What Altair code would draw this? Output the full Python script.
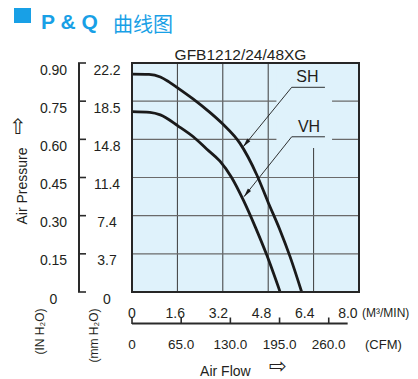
import altair as alt
import pandas as pd

# ---------------- data ----------------
sh_flow = [0, 0.6, 1.0, 1.3, 1.6, 2.15, 2.68, 3.2, 3.8, 4.4, 4.8, 5.2, 5.57, 5.98]
sh_pres = [0.856, 0.855, 0.845, 0.826, 0.803, 0.759, 0.712, 0.660, 0.585, 0.460, 0.352, 0.248, 0.139, 0.0]
vh_flow = [0, 0.63, 1.0, 1.63, 2.16, 2.63, 3.1, 3.5, 3.92, 4.34, 4.75, 5.22]
vh_pres = [0.709, 0.706, 0.696, 0.652, 0.610, 0.562, 0.514, 0.452, 0.362, 0.257, 0.145, 0.0]

x_ticks = [0, 1.6, 3.2, 4.8, 6.4, 8.0]
x_labels = ["0", "1.6", "3.2", "4.8", "6.4", "8.0"]
y_ticks = [0, 0.15, 0.30, 0.45, 0.60, 0.75, 0.90]
in_labels = ["0", "0.15", "0.30", "0.45", "0.60", "0.75", "0.90"]
mm_labels = ["0", "3.7", "7.4", "11.4", "14.8", "18.5", "22.2"]
cfm_ticks = [0, 65, 130, 195, 260]
cfm_labels = ["0", "65.0", "130.0", "195.0", "260.0"]
cfm_axis_end = 285

v_grid = [1.6, 3.2, 4.8, 6.4]
h_grid = [0.15, 0.30, 0.45, 0.60, 0.75]

series_names = ["SH", "VH"]
label_flow = [6.18, 6.24]
label_pres = [0.846, 0.650]
sh_leader_flow = [3.92, 5.628, 6.80]
sh_leader_pres = [0.571, 0.8045, 0.8045]
vh_leader_flow = [3.947, 5.628, 6.80]
vh_leader_pres = [0.3745, 0.610, 0.610]

# ---------------- style ----------------
FONT = "Liberation Sans, Arial, DejaVu Sans, sans-serif"
CJK = "Noto Sans CJK SC, sans-serif"
BG = "#dff2fb"
INK = "#231f20"
BLUE = "#18a0e6"
W, H = 227, 229

xs = alt.Scale(domain=[0, 8], nice=False, zero=False)
xl = alt.Scale(domain=[0, 8.41], nice=False, zero=False)   # printed flow labels (compressed row)
ys = alt.Scale(domain=[0, 0.9], nice=False, zero=False)
cs = alt.Scale(domain=[0, 300], nice=False, zero=False)


def X(f, scale=xs):
    return alt.X(f, type="quantitative", scale=scale, axis=None)


def Y(f):
    return alt.Y(f, type="quantitative", scale=ys, axis=None)


one = pd.DataFrame({"a": [0]})


def txt(s, x, y, size=14, font=FONT, **kw):
    return alt.Chart(one).mark_text(text=s, font=font, fontSize=size, color=kw.pop("color", INK), **kw).encode(
        x=alt.value(x), y=alt.value(y))


# grid
vg = pd.DataFrame({"x": v_grid, "y0": 0.0, "y1": 0.9})
hg = pd.DataFrame({"y": h_grid, "x0": 0.0, "x1": 8.0})
vgrid = alt.Chart(vg).mark_rule(color="#3a3a3a", strokeWidth=1).encode(x=X("x"), y=Y("y0"), y2=alt.Y2("y1"))
hgrid = alt.Chart(hg).mark_rule(color="#6a6a6a", strokeWidth=1.2).encode(y=Y("y"), x=X("x0"), x2=alt.X2("x1"))

cover = alt.Chart(pd.DataFrame({"x0": [5.09], "x1": [7.05], "y0": [0.566], "y1": [0.9]})).mark_rect(
    fill=BG).encode(x=X("x0"), x2=alt.X2("x1"), y=Y("y0"), y2=alt.Y2("y1"))

# curves
cur = pd.concat([
    pd.DataFrame({"s": "SH", "flow": sh_flow, "p": sh_pres, "i": range(len(sh_flow))}),
    pd.DataFrame({"s": "VH", "flow": vh_flow, "p": vh_pres, "i": range(len(vh_flow))}),
])
curves = alt.Chart(cur).mark_line(color="#1a1a1a", strokeWidth=2.8, interpolate="monotone").encode(
    x=X("flow"), y=Y("p"), detail="s:N", order="i:Q")

lead = pd.concat([
    pd.DataFrame({"s": "SH", "flow": sh_leader_flow, "p": sh_leader_pres, "i": range(3)}),
    pd.DataFrame({"s": "VH", "flow": vh_leader_flow, "p": vh_leader_pres, "i": range(3)}),
])
leaders = alt.Chart(lead).mark_line(color="#1a1a1a", strokeWidth=0.9).encode(
    x=X("flow"), y=Y("p"), detail="s:N", order="i:Q")

ARROW = "M0,0L0.5,2.2L-0.5,2.2Z"
tips_sh = alt.Chart(pd.DataFrame({"flow": [sh_leader_flow[0]], "p": [sh_leader_pres[0]]})).mark_point(
    shape=ARROW, filled=True, size=64, angle=219, color="#1a1a1a", opacity=1).encode(x=X("flow"), y=Y("p"))
tips_vh = alt.Chart(pd.DataFrame({"flow": [vh_leader_flow[0]], "p": [vh_leader_pres[0]]})).mark_point(
    shape=ARROW, filled=True, size=64, angle=218.5, color="#1a1a1a", opacity=1).encode(x=X("flow"), y=Y("p"))

labels = alt.Chart(pd.DataFrame({"t": series_names, "flow": label_flow, "p": label_pres})).mark_text(
    font=FONT, fontSize=16, color=INK, baseline="middle").encode(x=X("flow"), y=Y("p"), text="t:N")

frame = alt.Chart(pd.DataFrame({"x0": [0.0], "x1": [8.0], "y0": [0.0], "y1": [0.9]})).mark_rect(
    fillOpacity=0, stroke="#262626", strokeWidth=2).encode(x=X("x0"), x2=alt.X2("x1"), y=Y("y0"), y2=alt.Y2("y1"))

# left bracket axis
yt = pd.DataFrame({"v": y_ticks, "inl": in_labels, "mml": mm_labels})
brk = alt.Chart(pd.DataFrame({"y0": [0.0], "y1": [0.9]})).mark_rule(color="#2a2a2a", strokeWidth=2).encode(
    x=alt.value(-53), y=Y("y0"), y2=alt.Y2("y1"))
brk_ticks = alt.Chart(yt).mark_rule(color="#2a2a2a", strokeWidth=1.6).encode(
    x=alt.value(-54), x2=alt.value(-46), y=Y("v"))
in_text = alt.Chart(yt).mark_text(font=FONT, fontSize=14, color=INK, align="center", dy=7.5).encode(
    x=alt.value(-78.5), y=Y("v"), text="inl:N")
mm_text = alt.Chart(yt).mark_text(font=FONT, fontSize=14, color=INK, align="center", dy=7.5).encode(
    x=alt.value(-25), y=Y("v"), text="mml:N")

# bottom axis labels
xt = pd.DataFrame({"v": x_ticks, "lab": x_labels})
x_text = alt.Chart(xt).mark_text(font=FONT, fontSize=14, color=INK, align="center").encode(
    x=X("v", xl), y=alt.value(250.5), text="lab:N")

# CFM axis
ct = pd.DataFrame({"v": cfm_ticks, "lab": cfm_labels})
cfm_line = alt.Chart(pd.DataFrame({"c0": [0], "c1": [cfm_axis_end]})).mark_rule(color="#2a2a2a", strokeWidth=2).encode(
    x=X("c0", cs), x2=alt.X2("c1"), y=alt.value(260.5))
cfm_ticks_m = alt.Chart(ct).mark_rule(color="#2a2a2a", strokeWidth=1.6).encode(
    x=X("v", cs), y=alt.value(261), y2=alt.value(254.5))
cfm_text = alt.Chart(ct).mark_text(font=FONT, fontSize=13.5, color=INK, align="center").encode(
    x=X("v", cs), y=alt.value(282), text="lab:N")

# static text
square = alt.Chart(one).mark_rect(fill=BLUE).encode(
    x=alt.value(-118), x2=alt.value(-101), y=alt.value(-55), y2=alt.value(-40))
texts = [
    txt("P & Q", -91, -40, size=21, fontWeight="bold", color=BLUE, align="left"),
    txt("曲线图", -19, -37, size=20, font=CJK, color=BLUE, align="left"),
    txt("GFB1212/24/48XG", 108.5, -8, size=15.5, align="center"),
    txt("Air Pressure", -109, 123, size=14, angle=270, align="center"),
    txt("⇧", -114, 65, size=21, font="DejaVu Sans", baseline="middle", align="center"),
    txt("(IN H₂O)", -92, 268.5, size=12, angle=270, align="center", baseline="middle"),
    txt("(mm H₂O)", -38, 272.5, size=12, angle=270, align="center", baseline="middle"),
    txt("(M³/MIN)", 230, 250, size=12, align="left"),
    txt("(CFM)", 233, 282, size=13, align="left"),
    txt("Air Flow", 93.4, 309, size=14, align="center"),
    txt("⇨", 145.5, 303.5, size=21, font="DejaVu Sans", baseline="middle", align="center"),
]

chart = alt.layer(
    vgrid, hgrid, cover, curves, leaders, tips_sh, tips_vh, labels, frame,
    brk, brk_ticks, in_text, mm_text, x_text, cfm_line, cfm_ticks_m, cfm_text, square, *texts
).resolve_scale(x="independent").properties(
    width=W, height=H,
    autosize=alt.AutoSizeParams(type="none"),
    padding={"left": 124, "top": 55, "right": 51, "bottom": 87},
    background="white",
).configure_view(fill=BG, stroke=None)

chart.save("out.html", embed_options={"renderer": "svg", "actions": False})
